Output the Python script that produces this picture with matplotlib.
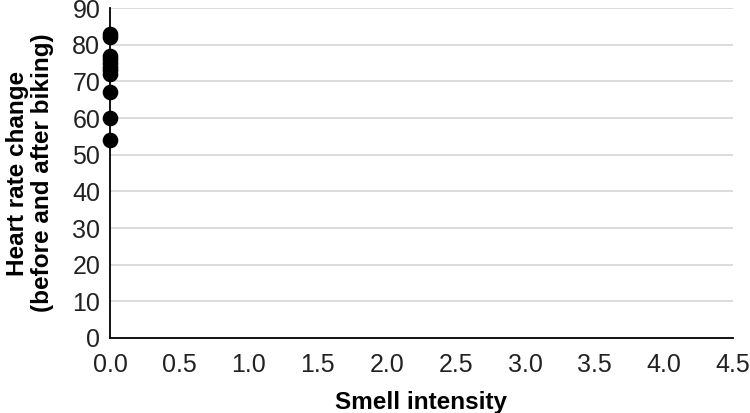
import matplotlib
matplotlib.use('Agg')
import matplotlib.pyplot as plt

# smell intensity (all zero) vs heart rate change
smell = [0, 0, 0, 0, 0, 0, 0, 0, 0, 0, 0]
heart_rate = [83, 82, 77, 76, 75, 74, 73, 72, 67, 60, 54]

x_ticks = [0.0, 0.5, 1.0, 1.5, 2.0, 2.5, 3.0, 3.5, 4.0, 4.5]
y_ticks = [0, 10, 20, 30, 40, 50, 60, 70, 80, 90]

plt.rcParams['font.family'] = ['Liberation Sans', 'DejaVu Sans']

fig = plt.figure(figsize=(7.5, 4.13), dpi=100)
ax = fig.add_axes([0.1467, 0.1816, 0.977 - 0.1467, 0.9806 - 0.1816])

ax.scatter(smell, heart_rate, s=105, color='black', zorder=3, clip_on=False)

ax.set_xlim(0, 4.5)
ax.set_ylim(0, 90)
ax.set_xticks(x_ticks)
ax.set_xticklabels([f"{v:.1f}" for v in x_ticks])
ax.set_yticks(y_ticks)

ax.grid(True, axis='y', color='#d9d9d9', linewidth=1.3)
ax.set_axisbelow(True)
for s in ['top', 'right']:
    ax.spines[s].set_visible(False)
ax.spines['left'].set_linewidth(1.3)
ax.spines['bottom'].set_linewidth(1.3)
ax.tick_params(length=0, labelsize=18, colors='#222222')
ax.tick_params(axis='x', pad=11)
ax.tick_params(axis='y', pad=7)

ax.set_xlabel('Smell intensity', fontsize=17.5, fontweight='bold', labelpad=10)
ax.set_ylabel('Heart rate change\n(before and after biking)', fontsize=17.5,
              fontweight='bold', labelpad=13, linespacing=1.1)

fig.savefig('out.png', dpi=100)
